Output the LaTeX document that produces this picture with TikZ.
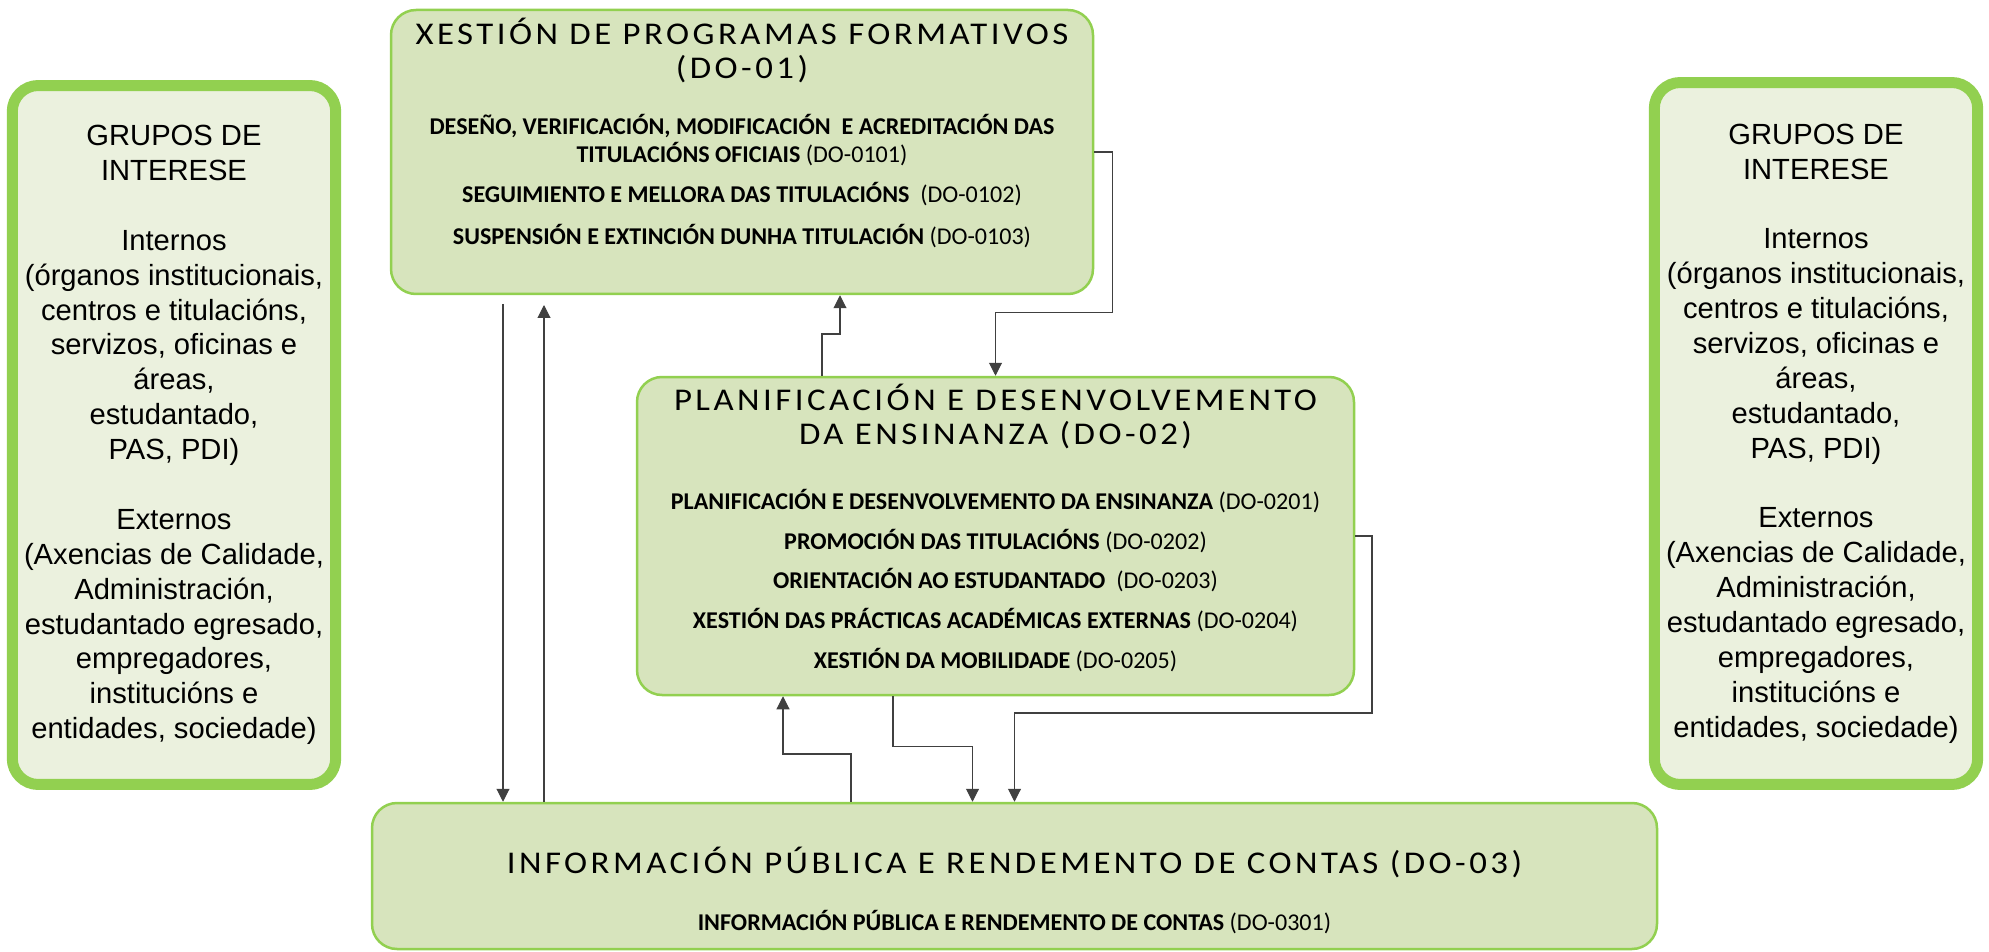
\documentclass[tikz,border=0pt]{standalone}
\usepackage{fontspec}
\setmainfont{Carlito}
\newfontfamily\headfont[FakeStretch=1.1, LetterSpace=11]{Carlito}
\newfontfamily\sidefont{Liberation Sans}
\usetikzlibrary{arrows.meta, positioning, calc}
\definecolor{dGreen}{HTML}{92D050}
\definecolor{dFill}{HTML}{D7E4BD}
\definecolor{dSide}{HTML}{EBF1DE}
\definecolor{dLine}{HTML}{404040}

\begin{document}
\begin{tikzpicture}[x=0.1mm, y=-0.1mm,
    prc/.style={draw=dGreen, fill=dFill, line width=0.25mm, rounded corners=2.5mm},
    grp/.style={draw=dGreen, fill=dSide, line width=1.1mm, rounded corners=2.6mm,
                align=center, font=\sidefont\fontsize{8.3}{9.93}\selectfont},
    ttl/.style={align=center, font=\headfont\fontsize{9}{9.4}\selectfont},
    itm/.style={align=center, font=\fontsize{6.85}{7.9}\selectfont},
    lnk/.style={dLine, line width=0.3pt, -{Triangle[length=1.3mm, width=1.3mm]}}]
  \useasboundingbox (0,0) rectangle (1989,952);

  % stakeholder boxes
  \node[grp, minimum width=31.7mm, minimum height=69.9mm] (gl) at (174,435)
    {GRUPOS DE\\INTERESE\\[9.9pt]Internos\\(órganos institucionais,\\centros e titulacións,\\servizos, oficinas e\\áreas,\\estudantado,\\PAS, PDI)\\[9.9pt]Externos\\(Axencias de Calidade,\\Administración,\\estudantado egresado,\\empregadores,\\institucións e\\entidades, sociedade)};
  \node[grp, minimum width=31.9mm, minimum height=70.2mm] (gr) at (1816,433.5)
    {GRUPOS DE\\INTERESE\\[9.9pt]Internos\\(órganos institucionais,\\centros e titulacións,\\servizos, oficinas e\\áreas,\\estudantado,\\PAS, PDI)\\[9.9pt]Externos\\(Axencias de Calidade,\\Administración,\\estudantado egresado,\\empregadores,\\institucións e\\entidades, sociedade)};

  % process boxes
  \node[prc, minimum width=70.2mm, minimum height=28.4mm] (b1) at (742,152) {};
  \node[prc, minimum width=71.7mm, minimum height=31.8mm] (b2) at (995.5,536) {};
  \node[prc, minimum width=128.5mm, minimum height=14.6mm] (b3) at (1014.5,876) {};

  \node[ttl] (t1) at (742,50.5) {XESTIÓN DE PROGRAMAS FORMATIVOS\\(DO-01)};
  \node[itm] (i1) at (742,181)
    {\textbf{DESEÑO, VERIFICACIÓN, MODIFICACIÓN\ \ E ACREDITACIÓN DAS}\\
     \textbf{TITULACIÓNS OFICIAIS} (DO-0101)\\[3.6pt]
     \textbf{SEGUIMIENTO E MELLORA DAS TITULACIÓNS}\ \ (DO-0102)\\[3.9pt]
     \textbf{SUSPENSIÓN E EXTINCIÓN DUNHA TITULACIÓN} (DO-0103)};

  \node[ttl] (t2) at (995.5,416.5) {PLANIFICACIÓN E DESENVOLVEMENTO\\DA ENSINANZA (DO-02)};
  \node[itm] (i2) at (995.5,580.5)
    {\textbf{PLANIFICACIÓN E DESENVOLVEMENTO DA ENSINANZA} (DO-0201)\\[3.4pt]
     \textbf{PROMOCIÓN DAS TITULACIÓNS} (DO-0202)\\[3.4pt]
     \textbf{ORIENTACIÓN AO ESTUDANTADO}\ \ (DO-0203)\\[3.4pt]
     \textbf{XESTIÓN DAS PRÁCTICAS ACADÉMICAS EXTERNAS} (DO-0204)\\[3.4pt]
     \textbf{XESTIÓN DA MOBILIDADE} (DO-0205)};

  \node[ttl] (t3) at (1014.5,862.6) {INFORMACIÓN PÚBLICA E RENDEMENTO DE CONTAS (DO-03)};
  \node[itm] (i3) at (1014.5,922)
    {\textbf{INFORMACIÓN PÚBLICA E RENDEMENTO DE CONTAS} (DO-0301)};

  % connectors
  \coordinate (c1) at (503,304);
  \coordinate (c2) at (544,305);
  \coordinate (c3) at (822,334);
  \coordinate (d3) at (840,334);
  \coordinate (c4) at (1112.5,312.5);
  \coordinate (c5) at (1372,713);
  \coordinate (c6) at (893,746.5);
  \coordinate (d6) at (972.5,746.5);
  \coordinate (c7) at (851,754);
  \coordinate (d7) at (783,754);

  \draw[lnk] (c1) -- (c1 |- b3.north);
  \draw[lnk] (c2 |- b3.north) -- (c2);
  \draw[lnk] (c3 |- b2.north) -- (c3) -- (d3) -- (d3 |- b1.south);
  \draw[lnk] (b1.east) -| (c4) -| (b2.north);
  \draw[lnk] (b2.east) -| (c5) -| (b3.north);
  \draw[lnk] (c6 |- b2.south) -- (c6) -- (d6) -- (d6 |- b3.north);
  \draw[lnk] (c7 |- b3.north) -- (c7) -- (d7) -- (d7 |- b2.south);
\end{tikzpicture}
\end{document}
